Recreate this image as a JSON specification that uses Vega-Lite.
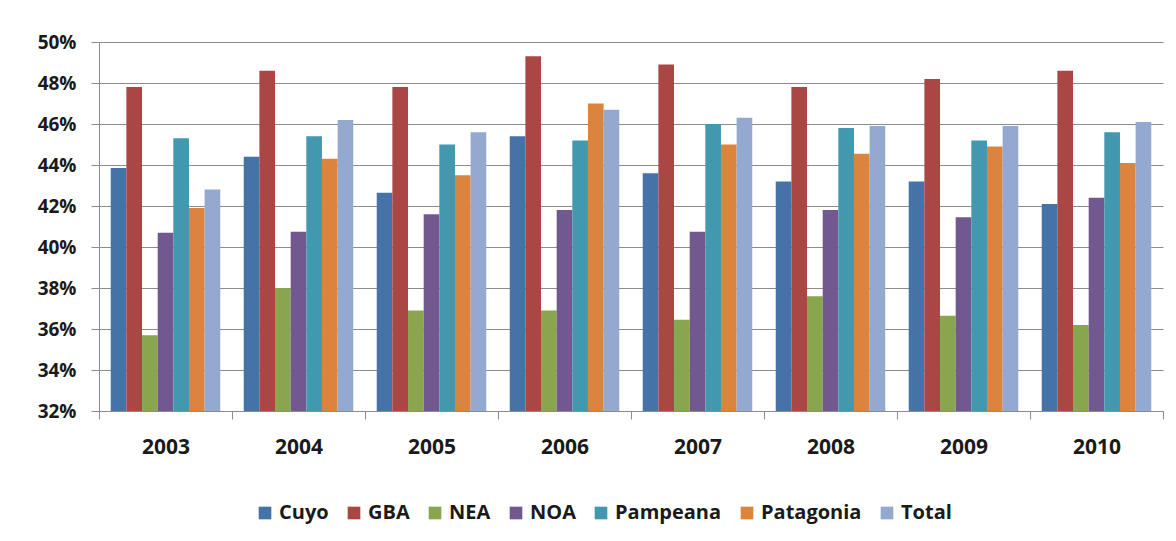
{
  "$schema": "https://vega.github.io/schema/vega-lite/v6.json",
  "autosize": "none",
  "width": 1064,
  "height": 369,
  "padding": {"left": 99, "top": 42, "right": 13, "bottom": 130},
  "background": "white",
  "config": {
    "view": {"stroke": null},
    "axis": {"labelFont": "Open Sans", "labelFontWeight": "bold", "labelColor": "#1a1a1a", "domainColor": "#8c8c8c", "tickColor": "#8c8c8c", "gridColor": "#8c8c8c"},
    "legend": {"labelFont": "Open Sans", "labelFontWeight": "bold", "labelColor": "#1a1a1a"}
  },
  "data": {
    "values": [
      {"year": "2003", "region": "Cuyo", "v": 0.4385},
      {"year": "2003", "region": "GBA", "v": 0.478},
      {"year": "2003", "region": "NEA", "v": 0.357},
      {"year": "2003", "region": "NOA", "v": 0.407},
      {"year": "2003", "region": "Pampeana", "v": 0.453},
      {"year": "2003", "region": "Patagonia", "v": 0.419},
      {"year": "2003", "region": "Total", "v": 0.428},
      {"year": "2004", "region": "Cuyo", "v": 0.444},
      {"year": "2004", "region": "GBA", "v": 0.486},
      {"year": "2004", "region": "NEA", "v": 0.380},
      {"year": "2004", "region": "NOA", "v": 0.4075},
      {"year": "2004", "region": "Pampeana", "v": 0.454},
      {"year": "2004", "region": "Patagonia", "v": 0.443},
      {"year": "2004", "region": "Total", "v": 0.462},
      {"year": "2005", "region": "Cuyo", "v": 0.4265},
      {"year": "2005", "region": "GBA", "v": 0.478},
      {"year": "2005", "region": "NEA", "v": 0.369},
      {"year": "2005", "region": "NOA", "v": 0.416},
      {"year": "2005", "region": "Pampeana", "v": 0.450},
      {"year": "2005", "region": "Patagonia", "v": 0.435},
      {"year": "2005", "region": "Total", "v": 0.456},
      {"year": "2006", "region": "Cuyo", "v": 0.454},
      {"year": "2006", "region": "GBA", "v": 0.493},
      {"year": "2006", "region": "NEA", "v": 0.369},
      {"year": "2006", "region": "NOA", "v": 0.418},
      {"year": "2006", "region": "Pampeana", "v": 0.452},
      {"year": "2006", "region": "Patagonia", "v": 0.470},
      {"year": "2006", "region": "Total", "v": 0.467},
      {"year": "2007", "region": "Cuyo", "v": 0.436},
      {"year": "2007", "region": "GBA", "v": 0.489},
      {"year": "2007", "region": "NEA", "v": 0.3645},
      {"year": "2007", "region": "NOA", "v": 0.4075},
      {"year": "2007", "region": "Pampeana", "v": 0.460},
      {"year": "2007", "region": "Patagonia", "v": 0.450},
      {"year": "2007", "region": "Total", "v": 0.463},
      {"year": "2008", "region": "Cuyo", "v": 0.432},
      {"year": "2008", "region": "GBA", "v": 0.478},
      {"year": "2008", "region": "NEA", "v": 0.376},
      {"year": "2008", "region": "NOA", "v": 0.418},
      {"year": "2008", "region": "Pampeana", "v": 0.458},
      {"year": "2008", "region": "Patagonia", "v": 0.4455},
      {"year": "2008", "region": "Total", "v": 0.459},
      {"year": "2009", "region": "Cuyo", "v": 0.432},
      {"year": "2009", "region": "GBA", "v": 0.482},
      {"year": "2009", "region": "NEA", "v": 0.3665},
      {"year": "2009", "region": "NOA", "v": 0.4145},
      {"year": "2009", "region": "Pampeana", "v": 0.452},
      {"year": "2009", "region": "Patagonia", "v": 0.449},
      {"year": "2009", "region": "Total", "v": 0.459},
      {"year": "2010", "region": "Cuyo", "v": 0.421},
      {"year": "2010", "region": "GBA", "v": 0.486},
      {"year": "2010", "region": "NEA", "v": 0.362},
      {"year": "2010", "region": "NOA", "v": 0.424},
      {"year": "2010", "region": "Pampeana", "v": 0.456},
      {"year": "2010", "region": "Patagonia", "v": 0.441},
      {"year": "2010", "region": "Total", "v": 0.461}
    ]
  },
  "mark": {"type": "bar", "clip": true},
  "encoding": {
    "x": {
      "field": "year", "type": "nominal",
      "scale": {"paddingInner": 0, "paddingOuter": 0},
      "axis": {"title": null, "labelAngle": 0, "labelFontSize": 21, "labelPadding": 17, "tickBand": "extent", "tickSize": 8, "grid": false}
    },
    "xOffset": {
      "field": "region", "type": "nominal",
      "scale": {"paddingInner": 0, "paddingOuter": 0.75}
    },
    "y": {
      "field": "v", "type": "quantitative",
      "scale": {"domain": [0.32, 0.50], "zero": false, "nice": false},
      "axis": {"title": null, "format": ".0%", "values": [0.32, 0.34, 0.36, 0.38, 0.40, 0.42, 0.44, 0.46, 0.48, 0.50], "labelFontSize": 19, "tickSize": 8, "labelPadding": 15, "grid": true}
    },
    "color": {
      "field": "region", "type": "nominal",
      "scale": {"domain": ["Cuyo", "GBA", "NEA", "NOA", "Pampeana", "Patagonia", "Total"], "range": ["#4572A7", "#AA4643", "#89A54E", "#71588F", "#4198AF", "#DB843D", "#93A9CF"]},
      "legend": {"title": null, "orient": "none", "legendX": 156, "legendY": 461, "direction": "horizontal", "columns": 7, "symbolType": "square", "symbolSize": 160, "symbolStrokeWidth": 0, "symbolOpacity": 1, "labelFontSize": 20, "labelOffset": 4, "columnPadding": 15}
    }
  }
}
